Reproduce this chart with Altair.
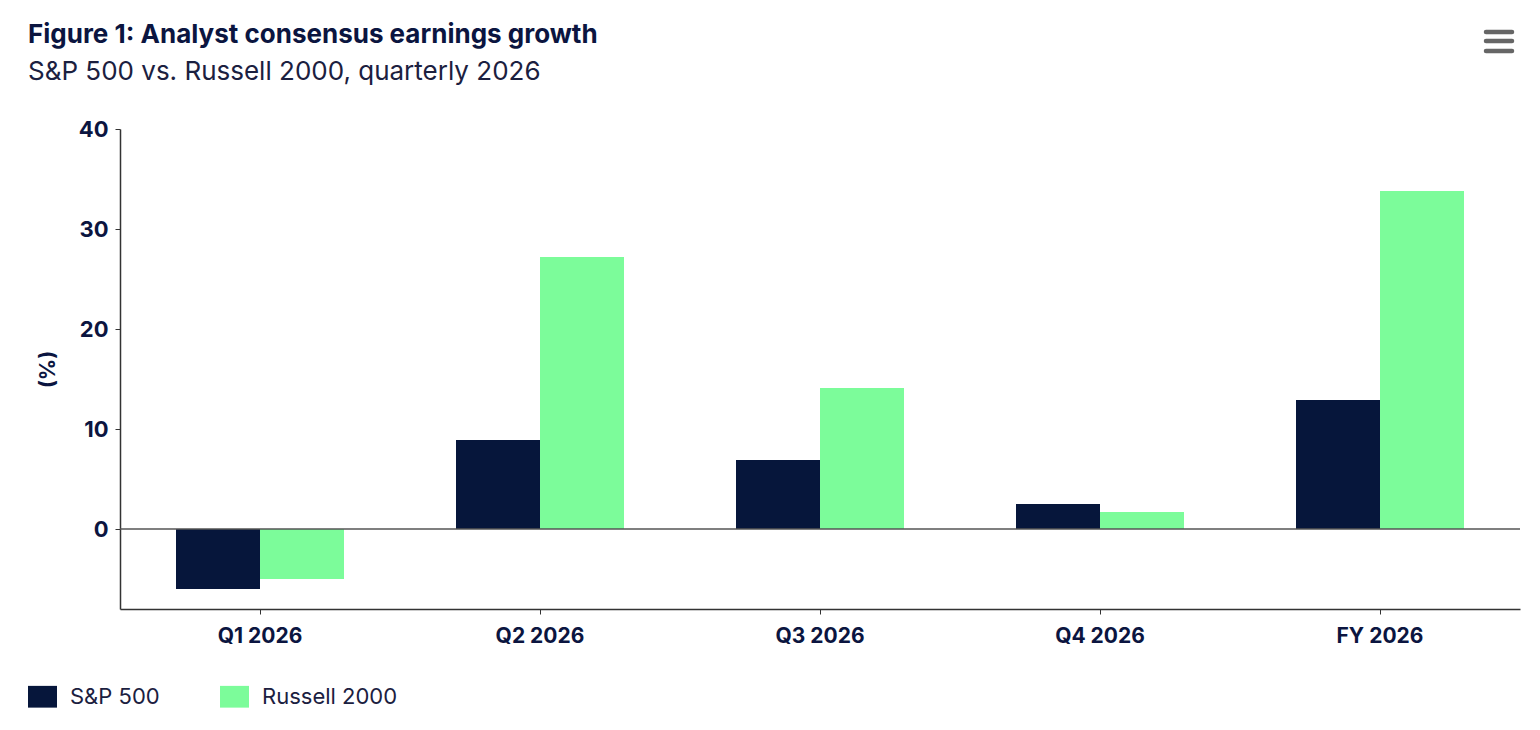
import altair as alt
import pandas as pd

categories = ["Q1 2026", "Q2 2026", "Q3 2026", "Q4 2026", "FY 2026"]
sp500 = [-6.0, 8.9, 6.9, 2.5, 12.9]
russell = [-5.0, 27.2, 14.1, 1.7, 33.8]
series = ["S&P 500", "Russell 2000"]
colors = ["#06163B", "#7CFC9A"]
y_ticks = [0, 10, 20, 30, 40]
title_text = "Figure 1: Analyst consensus earnings growth"
subtitle_text = "S&P 500 vs. Russell 2000, quarterly 2026"

NAVY = "#0B1540"
FONT = "Inter"

rows = []
for c, a, b in zip(categories, sp500, russell):
    rows.append({"cat": c, "series": series[0], "value": a})
    rows.append({"cat": c, "series": series[1], "value": b})
df = pd.DataFrame(rows)

bars = alt.Chart(df).mark_bar().encode(
    x=alt.X(
        "cat:N", sort=categories, title=None,
        scale=alt.Scale(paddingInner=0.4, paddingOuter=0.2),
        axis=alt.Axis(labelAngle=0, labelFont=FONT, labelFontWeight="bold",
                      labelFontSize=21, labelColor=NAVY, labelPadding=11,
                      tickSize=5, tickColor="#333333", domainColor="#333333",
                      domainWidth=1.5),
    ),
    xOffset=alt.XOffset("series:N", sort=series,
                        scale=alt.Scale(paddingInner=0, paddingOuter=0)),
    y=alt.Y(
        "value:Q",
        scale=alt.Scale(domain=[-8, 40], nice=False, zero=False),
        axis=alt.Axis(values=y_ticks, title="(%)", grid=False,
                      labelFont=FONT, labelFontWeight="bold", labelFontSize=22,
                      labelColor=NAVY, labelPadding=7, tickSize=5,
                      tickColor="#333333", domainColor="#333333", domainWidth=1.5,
                      titleFont=FONT, titleFontWeight="bold", titleFontSize=21,
                      titleColor=NAVY, titlePadding=20),
    ),
    color=alt.Color(
        "series:N", sort=series,
        scale=alt.Scale(domain=series, range=colors),
        legend=alt.Legend(
            title=None, orient="none", direction="horizontal",
            legendX=-92, legendY=553, padding=0,
            symbolType="M-1,-0.75H1V0.75H-1Z", symbolSize=841,
            symbolStrokeWidth=0, symbolOpacity=1,
            labelFont=FONT, labelFontSize=22, labelColor="#1B2040",
            labelOffset=13, columnPadding=60,
        ),
    ),
)

zero = alt.Chart(pd.DataFrame({"v": [0]})).mark_rule(
    color="#555555", strokeWidth=1.5
).encode(y="v:Q")

menu = [
    alt.Chart(pd.DataFrame({"k": [0]})).mark_rule(
        color="#666666", strokeWidth=4.5, strokeCap="round"
    ).encode(x=alt.value(1366), x2=alt.value(1392), y=alt.value(yy))
    for yy in (-97, -88, -78)
]

title = alt.Chart(pd.DataFrame({"t": [title_text]})).mark_text(
    align="left", baseline="alphabetic", font=FONT, fontSize=26,
    fontWeight="bold", color=NAVY
).encode(text="t:N", x=alt.value(-92), y=alt.value(-86))

subtitle = alt.Chart(pd.DataFrame({"t": [subtitle_text]})).mark_text(
    align="left", baseline="alphabetic", font=FONT, fontSize=26,
    color="#1B2040"
).encode(text="t:N", x=alt.value(-92), y=alt.value(-49))

chart = alt.layer(bars, zero, *menu, title, subtitle).properties(
    width=1400, height=480,
    background="white",
    autosize=alt.AutoSizeParams(type="none"),
    padding={"left": 120, "top": 129, "right": 20, "bottom": 121},
).configure_view(stroke=None)

chart.save("out.html", embed_options={"renderer": "svg", "actions": False})
